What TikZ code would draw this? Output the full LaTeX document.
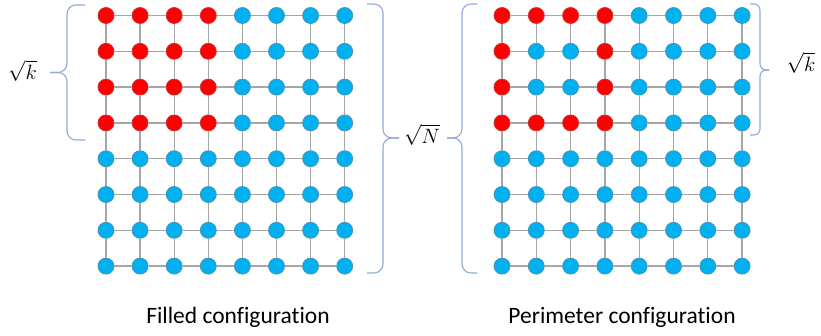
\documentclass[tikz,border=0pt]{standalone}
\usepackage{fontspec}
\setmainfont[Ligatures=NoCommon]{Carlito}
\usepackage{tikz}
\definecolor{dotred}{HTML}{FF0000}
\definecolor{dotblue}{HTML}{00B0F0}
\definecolor{edgegray}{HTML}{A6A6A6}
\definecolor{bracecol}{HTML}{8EAADB}
\tikzset{
  site/.style={circle,minimum size=16pt,inner sep=0pt,line width=0.8pt},
  bond/.style={draw=edgegray,line width=1.3pt},
  curly/.style={draw=bracecol,line width=1.1pt,rounded corners=9pt},
  hook/.style={to path={-- ++(#1,0) |- (\tikztotarget)}},
  caption/.style={font=\fontsize{23.5}{26}\selectfont},
  root/.style={font=\fontsize{22}{26}\selectfont}
}

\begin{document}
\begin{tikzpicture}[x=1pt,y=-1pt]
\useasboundingbox (0,0) rectangle (821,335);
% two 8x8 lattices, left filled and right perimeter
\foreach \r in {1,...,8}{
  \foreach \c in {1,...,8}{
    \pgfmathtruncatemacro\filled{(\r<5)&&(\c<5)}
    \pgfmathtruncatemacro\hole{(\r>1)&&(\r<4)&&(\c>1)&&(\c<4)}
    \ifnum\filled=1 \def\fcl{dotred}\def\dcl{red!60!gray}\else\def\fcl{dotblue}\def\dcl{dotblue!45!gray}\fi
    \node[site,fill=\fcl,draw=\dcl] (L-\r-\c) at ({106+34.1*(\c-1)},{15.5+35.8*(\r-1)}) {};
    \ifnum\hole=1 \def\fcl{dotblue}\def\dcl{dotblue!45!gray}\fi
    \node[site,fill=\fcl,draw=\dcl] (R-\r-\c) at ({502+34.3*(\c-1)},{15.5+35.8*(\r-1)}) {};
  }
}
\foreach \g in {L,R}{
  \foreach \r in {1,...,8}{
    \foreach \c [evaluate=\c as \d using int(\c+1)] in {1,...,7}{
      \draw[bond] (\g-\r-\c) -- (\g-\r-\d);
      \draw[bond] (\g-\c-\r) -- (\g-\d-\r);
    }
  }
}

% braces
\coordinate (bk1a) at (85,140);  \coordinate (bk1b) at (85,5);   \coordinate (tk1) at (50,72.5);
\coordinate (bNa) at (367,4);    \coordinate (bNb) at (367,273); \coordinate (tN) at (399,138);
\coordinate (bN2a) at (477,273); \coordinate (bN2b) at (477,4);  \coordinate (tN2) at (447,138);
\coordinate (bk2a) at (750,4);   \coordinate (bk2b) at (750,135);\coordinate (tk2) at (769,70);
\draw[curly,hook=-18] (bk1a) to (tk1);
\draw[curly,hook=-18] (bk1b) to (tk1);
\draw[curly,hook=16] (bNa) to (tN);
\draw[curly,hook=16] (bNb) to (tN);
\draw[curly,hook=-15] (bN2a) to (tN2);
\draw[curly,hook=-15] (bN2b) to (tN2);
\draw[curly,hook=10,rounded corners=6pt] (bk2a) to (tk2);
\draw[curly,hook=10,rounded corners=6pt] (bk2b) to (tk2);

\node[root] (kLeft) at (22.5,71) {$\sqrt{k}$};
\node[root] (nMid) at (422,135) {$\sqrt{N}$};
\node[root] (kRight) at (801,63) {$\sqrt{k}$};

\node[caption] (filled) at (238,317) {Filled configuration};
\node[caption] (perim) at (622,317) {Perimeter configuration};
\end{tikzpicture}
\end{document}
